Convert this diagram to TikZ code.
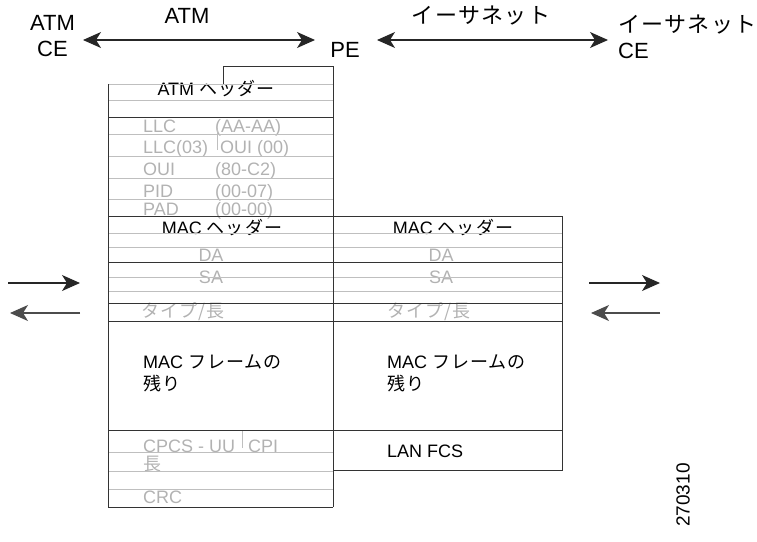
\documentclass[tikz,border=0pt]{standalone}
\usepackage{fontspec}
\setmainfont{Liberation Sans}
\newfontfamily\jp{Noto Sans CJK JP}[LetterSpace=6]
\usetikzlibrary{arrows.meta}
\begin{document}
\begin{tikzpicture}[x=1pt,y=-1pt,
  dk/.style={draw=black!80,line width=0.9pt},
  gr/.style={draw=black!25,line width=0.9pt},
  big/.style={font=\fontsize{22}{26}\selectfont,inner sep=0pt},
  bx/.style={font=\fontsize{18}{22}\selectfont,inner sep=0pt},
  gt/.style={bx,text=black!30},
  arr/.style={line width=1.2pt,-{Stealth[length=18pt,width=16pt,inset=5pt]}},
  darr/.style={line width=1.2pt,{Stealth[length=18pt,width=16pt,inset=5pt]}-{Stealth[length=18pt,width=16pt,inset=5pt]}}
]
\useasboundingbox (0,0) rectangle (757,541);

% top labels
\node[big,align=center] (atmce) at (52.5,36.5) {ATM\\CE};
\node[big] (pe) at (345,50) {PE};
\node[big,align=left,anchor=west] (ethce) at (618,36.5) {{\jp イーサネット}\\CE};
\node[big] (atmlbl) at (187,15.5) {ATM};
\node[big] (ethlbl) at (481,16) {\jp イーサネット};

\coordinate (a1) at (83,40);
\coordinate (a2) at (315,40);
\coordinate (e1) at (377,40);
\coordinate (e2) at (608,40);
\draw[darr,black!85] (a1) -- (a2);
\draw[darr,black!85] (e1) -- (e2);

% side arrows
\coordinate (l1) at (8,283);  \coordinate (l2) at (80,283);
\coordinate (l3) at (80,313); \coordinate (l4) at (10,313);
\coordinate (r1) at (589,283); \coordinate (r2) at (660,283);
\coordinate (r3) at (660,313); \coordinate (r4) at (591,313);
\draw[arr,black!85] (l1) -- (l2);
\draw[arr,black!70] (l3) -- (l4);
\draw[arr,black!85] (r1) -- (r2);
\draw[arr,black!70] (r3) -- (r4);

% texts in left column
\node[bx,anchor=base] (atmh) at (216,95) {ATM {\jp ヘッダー}};
\node[gt,anchor=base west] (llc1) at (143,132) {LLC};
\node[gt,anchor=base west] (llc1v) at (215,132) {(AA-AA)};
\node[gt,anchor=base west] (llc2) at (143,153) {LLC(03)};
\node[gt,anchor=base west] (oui0) at (220,153) {OUI (00)};
\node[gt,anchor=base west] (oui) at (143,175) {OUI};
\node[gt,anchor=base west] (ouiv) at (215,175) {(80-C2)};
\node[gt,anchor=base west] (pid) at (143,197) {PID};
\node[gt,anchor=base west] (pidv) at (215,197) {(00-07)};
\node[gt,anchor=base west] (pad) at (143,215) {PAD};
\node[gt,anchor=base west] (padv) at (215,215) {(00-00)};
\node[bx,anchor=base] (mach1) at (222,234) {MAC {\jp ヘッダー}};
\node[gt,anchor=base] (da1) at (211,261.5) {DA};
\node[gt,anchor=base] (sa1) at (211,283) {SA};
\node[gt,anchor=base] (tl1) at (183,317) {\jp タイプ/長};
\node[bx,anchor=west,align=left] (rest1) at (143,373) {MAC {\jp フレームの}\\{\jp 残り}};
\node[gt,anchor=base west] (cpcs) at (143,452) {CPCS - UU};
\node[gt,anchor=base west] (cpi) at (248,452) {CPI};
\node[gt,anchor=base west] (len) at (143,470) {\jp 長};
\node[gt,anchor=base west] (crc) at (143,503) {CRC};

% texts in right column
\node[bx,anchor=base] (mach2) at (453,234) {MAC {\jp ヘッダー}};
\node[gt,anchor=base] (da2) at (441,261.5) {DA};
\node[gt,anchor=base] (sa2) at (441,283) {SA};
\node[gt,anchor=base] (tl2) at (429,317) {\jp タイプ/長};
\node[bx,anchor=west,align=left] (rest2) at (387,373) {MAC {\jp フレームの}\\{\jp 残り}};
\node[bx,anchor=base west] (fcs) at (387,457) {LAN FCS};

\node[font=\fontsize{19}{21}\selectfont,rotate=90,inner sep=0pt] (fig) at (683,495) {270310};

% grid lines
\foreach \y in {84,100.7,134,156,178,199,452,471,489} \draw[gr] (108,\y) -- (333,\y);
\foreach \y in {233,247,277,291} \draw[gr] (108,\y) -- (562,\y);
\draw[gr] (217,128) -- (217,150);
\draw[gr] (242,430) -- (242,448);
\draw[dk] (108,117) -- (333,117);
\foreach \y in {216,262,303,321,430} \draw[dk] (108,\y) -- (562,\y);
\draw[dk] (223,84) -- (223,66) -- (333,66) -- (333,507);
\draw[dk] (108,84) -- (108,507) -- (333,507);
\draw[dk] (562,216) -- (562,470) -- (333,470);
\end{tikzpicture}
\end{document}
